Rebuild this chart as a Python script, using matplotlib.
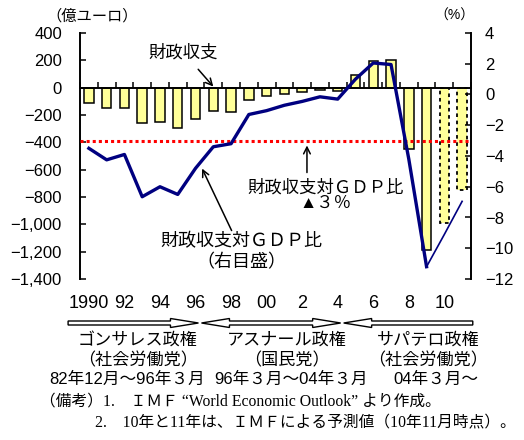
import matplotlib
matplotlib.use('Agg')
import matplotlib.pyplot as plt
from matplotlib.patches import Polygon
from matplotlib.transforms import IdentityTransform
from matplotlib.ticker import FuncFormatter

JP = ['Liberation Sans', 'Noto Sans CJK JP']
JP_SERIF = ['Liberation Serif', 'Noto Sans CJK JP']
plt.rcParams['font.family'] = JP

# data
years = list(range(1990, 2012))
balance = [-115, -150, -150, -262, -254, -295, -232, -173, -178, -87, -63,
           -43, -31, -18, -26, 92, 197, 202, -447, -1187, -987, -749]  # 億ユーロ
balance_gdp = [-3.5, -4.25, -3.9, -6.65, -6.0, -6.5, -4.8, -3.4, -3.2, -1.3,
               -1.05, -0.7, -0.45, -0.15, -0.3, 1.0, 2.05, 1.95, -4.2, -11.2,
               -9.1, -6.95]  # %
first_forecast = 2010
gdp_ref = -3
year_labels = ['1990', '92', '94', '96', '98', '00', '2', '4', '6', '8', '10']
label_years = list(range(1990, 2011, 2))

governments = ['ゴンサレス政権', 'アスナール政権', 'サパテロ政権']
parties = ['（社会労働党）', '（国民党）', '（社会労働党）']
terms = ['82年12月～96年３月', '96年３月～04年３月', '04年３月～']
term_bounds = [1988.83, 1996.25, 2004.25, 2011.6]

W, H = 524, 440
fig = plt.figure(figsize=(W / 100, H / 100), dpi=100)
ax = fig.add_axes([80 / W, 1 - 279 / H, 391 / W, 246 / H])
ax2 = ax.twinx()

# bars
fill = '#FFFF99'
for y, v in zip(years, balance):
    if y >= first_forecast:
        ax.bar(y, v, width=0.53, color=fill, edgecolor='black', linewidth=1.3,
               linestyle=(0, (2, 2)), zorder=2)
    else:
        ax.bar(y, v, width=0.53, color=fill, edgecolor='black', linewidth=1.1, zorder=2)

ax.set_xlim(1989.5, 2011.5)
ax.set_ylim(-1400, 400)
ax.set_yticks(range(-1400, 401, 200))
ax.yaxis.set_major_formatter(FuncFormatter(lambda v, p: f'{v:,.0f}'.replace('-', '\u2212')))
ax.spines['bottom'].set_position(('data', 0))
ax.spines['top'].set_visible(False)
ax.spines['right'].set_visible(False)
for s in ['left', 'bottom']:
    ax.spines[s].set_linewidth(1.4)
ax.set_xticks([y - 0.5 for y in years] + [years[-1] + 0.5])
ax.tick_params(axis='x', direction='in', length=4.5, width=1.1, labelbottom=False)
ax.tick_params(axis='y', direction='in', length=4.5, width=1.1, labelsize=12, pad=13)

# GDP ratio line (right axis)
ax2.set_ylim(-12, 4)
ax2.set_yticks(range(-12, 5, 2))
ax2.yaxis.set_major_formatter(FuncFormatter(lambda v, p: f'{v:.0f}'.replace('-', '\u2212')))
for s in ['top', 'bottom', 'left']:
    ax2.spines[s].set_visible(False)
ax2.spines['right'].set_linewidth(1.4)
ax2.tick_params(axis='y', direction='in', length=4.5, width=1.1, labelsize=12, pad=10)
ax2.axhline(gdp_ref, color='red', linestyle=(0, (1, 1)), linewidth=2.2, zorder=3)
k = years.index(first_forecast)
ax2.plot(years[:k], balance_gdp[:k], color='#000080', linewidth=2.4, zorder=4)
ax2.plot(years[k - 1:], balance_gdp[k - 1:], color='#000080', linewidth=1.2, zorder=4)

# year labels
xt = ax.get_xaxis_transform()
for y, lab in zip(label_years, year_labels):
    ax.text(y, -0.098, lab, transform=xt, ha='center', va='center', fontsize=13)

# annotations
arr = dict(arrowstyle='->', color='black', lw=1.1, mutation_scale=12)
ax.annotate('財政収支', xy=(1997.0, 8), xytext=(1995.3, 261), ha='center', va='center',
            fontsize=12.5, arrowprops=dict(arr, shrinkA=6, shrinkB=0))
ax.annotate('財政収支対ＧＤＰ比\n（右目盛）', xy=(1996.37, -592), xytext=(1998.56, -1206),
            ha='center', va='center', fontsize=13, linespacing=1.3,
            arrowprops=dict(arr, shrinkA=0, shrinkB=0, relpos=(0.45, 1.0)))
ax.annotate('', xy=(2002.27, -423), xytext=(2002.27, -621),
            arrowprops=dict(arr, shrinkA=0, shrinkB=0))
ax.text(2003.34, -787, '財政収支対ＧＤＰ比\n▲３％', ha='center', va='center',
        fontsize=12.5, linespacing=1.05)

fig.text(92 / W, 1 - 16 / H, '（億ユーロ）', ha='center', va='center', fontsize=11)
fig.text(454 / W, 1 - 16 / H, '（%）', ha='center', va='center', fontsize=10)

# government period arrows
fig.canvas.draw()
ycen = H - 323
sh, hh, hl, gap = 2.0, 4.5, 28, 1.5


def block_arrow(x0, x1, left_head, right_head):
    pts = []
    if left_head:
        pts += [(x0, ycen), (x0 + hl, ycen + hh), (x0 + hl, ycen + sh)]
    else:
        pts += [(x0, ycen + sh)]
    if right_head:
        pts += [(x1 - hl, ycen + sh), (x1 - hl, ycen + hh), (x1, ycen),
                (x1 - hl, ycen - hh), (x1 - hl, ycen - sh)]
    else:
        pts += [(x1, ycen + sh), (x1, ycen - sh)]
    if left_head:
        pts += [(x0 + hl, ycen - sh), (x0 + hl, ycen - hh)]
    else:
        pts += [(x0, ycen - sh)]
    fig.add_artist(Polygon(pts, closed=True, facecolor='white', edgecolor='black',
                           linewidth=1.0, transform=IdentityTransform()))


px = [ax.transData.transform((b, 0))[0] for b in term_bounds]
block_arrow(px[0], px[1] - gap, False, True)
block_arrow(px[1] + gap, px[2] - gap, True, True)
block_arrow(px[2] + gap, px[3], True, False)

name_x = [138, 287, 428]
term_x = [127, 291, 436]
for i in range(3):
    fig.text(name_x[i] / W, 1 - 340 / H, governments[i], ha='center', va='center', fontsize=12.3)
    fig.text(name_x[i] / W, 1 - 360 / H, parties[i], ha='center', va='center', fontsize=12.3)
    fig.text(term_x[i] / W, 1 - 379 / H, terms[i], ha='center', va='center', fontsize=12)

fig.text(40 / W, 1 - 401 / H, '（備考）1.　ＩＭＦ “World Economic Outlook” より作成。',
         ha='left', va='center', fontsize=11.3, family=JP_SERIF)
fig.text(95 / W, 1 - 423 / H, '2.　10年と11年は、ＩＭＦによる予測値（10年11月時点）。',
         ha='left', va='center', fontsize=11.3, family=JP_SERIF)

fig.savefig('out.png', dpi=100)
